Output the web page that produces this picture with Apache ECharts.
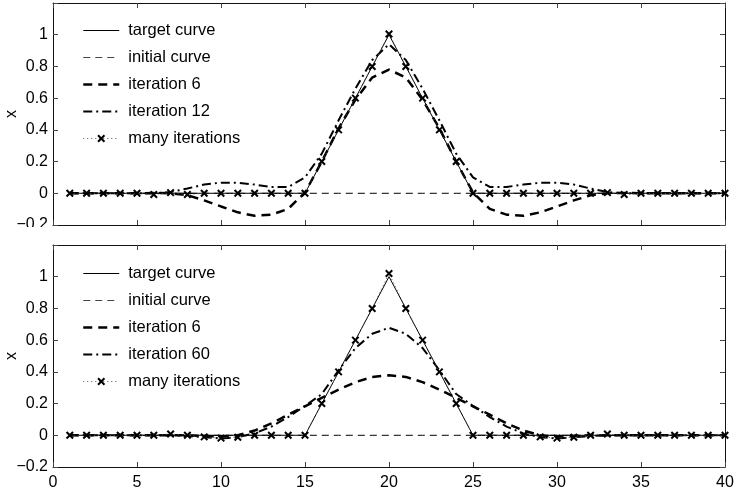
<!DOCTYPE html>
<html>
<head>
<meta charset="utf-8">
<title>Iterative reconstruction of x</title>
<script src="https://cdn.jsdelivr.net/npm/echarts@6/dist/echarts.min.js"></script>
<style>
  html, body { margin: 0; padding: 0; background: #fff; }
  #chart { width: 737px; height: 493px; }
</style>
</head>
<body>
<div id="chart"></div>
<script>
// sample positions
const xs = [1, 2, 3, 4, 5, 6, 7, 8, 9, 10, 11, 12, 13, 14, 15, 16, 17, 18, 19, 20,
            21, 22, 23, 24, 25, 26, 27, 28, 29, 30, 31, 32, 33, 34, 35, 36, 37, 38, 39, 40];

// target triangle and the flat starting curve
const targetCurve = [0, 0, 0, 0, 0, 0, 0, 0, 0, 0, 0, 0, 0, 0, 0,
                     0.2, 0.4, 0.6, 0.8, 1.0, 0.8, 0.6, 0.4, 0.2,
                     0, 0, 0, 0, 0, 0, 0, 0, 0, 0, 0, 0, 0, 0, 0, 0];
const initialCurve = [0, 0, 0, 0, 0, 0, 0, 0, 0, 0, 0, 0, 0, 0, 0, 0, 0, 0, 0, 0,
                      0, 0, 0, 0, 0, 0, 0, 0, 0, 0, 0, 0, 0, 0, 0, 0, 0, 0, 0, 0];

// upper panel
const topIter6 = [0, 0, 0, 0, 0, 0.002, 0, -0.012, -0.045, -0.083, -0.12, -0.142, -0.135, -0.098, 0.005,
                  0.2, 0.41, 0.59, 0.73, 0.78, 0.73, 0.59, 0.41, 0.2, 0.005,
                  -0.098, -0.135, -0.142, -0.12, -0.083, -0.045, -0.012, 0, 0.002, 0, 0, 0, 0, 0, 0];
const topIter12 = [0, 0, 0, 0, 0, 0, 0.008, 0.03, 0.055, 0.067, 0.066, 0.055, 0.04, 0.04, 0.1,
                   0.25, 0.46, 0.66, 0.84, 0.94, 0.84, 0.66, 0.46, 0.25, 0.1,
                   0.04, 0.04, 0.055, 0.066, 0.067, 0.055, 0.03, 0.008, 0, 0, 0, 0, 0, 0, 0];
const topMany = [0, 0, 0, 0, 0, -0.008, 0.004, -0.008, 0, 0, 0, 0, 0, 0, 0,
                 0.2, 0.4, 0.6, 0.8, 1.005, 0.8, 0.6, 0.4, 0.2,
                 0, 0, 0, 0, 0, 0, 0, 0, 0.004, -0.008, 0, 0, 0, 0, 0, 0];

// lower panel
const botIter6 = [0, 0, 0, 0, 0, 0, 0, 0, -0.004, -0.008, 0, 0.03, 0.075, 0.13, 0.183,
                  0.236, 0.288, 0.335, 0.368, 0.378, 0.368, 0.335, 0.288, 0.236, 0.183,
                  0.13, 0.075, 0.03, 0, -0.008, -0.004, 0, 0, 0, 0, 0, 0, 0, 0, 0];
const botIter60 = [0, 0, 0, 0, 0, 0, 0, -0.005, -0.012, -0.02, -0.012, 0.012, 0.055, 0.115, 0.185,
                   0.26, 0.41, 0.55, 0.64, 0.678, 0.64, 0.55, 0.41, 0.26, 0.185,
                   0.115, 0.055, 0.012, -0.012, -0.02, -0.012, -0.005, 0, 0, 0, 0, 0, 0, 0, 0];
const botMany = [0, 0, 0, 0, 0, 0, 0.008, 0, -0.01, -0.018, -0.012, 0, 0, 0, 0,
                 0.2, 0.4, 0.6, 0.8, 1.02, 0.8, 0.6, 0.4, 0.2,
                 0, 0, 0, 0, -0.01, -0.018, -0.012, 0, 0.008, 0, 0, 0, 0, 0, 0, 0];

// axis ticks
const xTicks = { min: 0, max: 40, interval: 5 };
const yTicks = { min: -0.2, max: 1.2, interval: 0.2 };

const FONT = '"Liberation Sans", Arial, Helvetica, sans-serif';
const CLEAR = 'rgba(0,0,0,0)';

// line looks shared by both panels and their legends
const STYLE = {
  initial: { color: '#444', width: 1, type: [7, 5] },
  target: { color: '#000', width: 1, type: 'solid' },
  iter6: { color: '#000', width: 2.5, type: [9, 6] },
  later: { color: '#000', width: 2, type: [9, 4, 2, 4] },
  many: { color: '#555', width: 1, type: [1, 3] }
};

function pairs(ys) { return xs.map((x, i) => [x, ys[i]]); }

function yLabel(v) {
  if (Math.abs(v - 1.2) < 1e-9) return '';
  const r = Math.round(v * 10) / 10;
  return r < 0 ? '\u2212' + String(-r) : String(r);
}

const axisLine = { show: true, onZero: false, lineStyle: { color: '#111', width: 1 } };
const tickIn = { show: true, inside: true, length: 5, lineStyle: { color: '#444', width: 1 } };

function xAxes(grid, withLabels) {
  return [
    {
      type: 'value', gridIndex: grid, position: 'bottom',
      min: xTicks.min, max: xTicks.max, interval: xTicks.interval,
      axisLine: axisLine, axisTick: tickIn, splitLine: { show: false },
      axisLabel: { show: withLabels, margin: 8, color: '#000', fontFamily: FONT, fontSize: 16 }
    },
    {
      type: 'value', gridIndex: grid, position: 'top',
      min: xTicks.min, max: xTicks.max, interval: xTicks.interval,
      axisLine: axisLine, axisTick: tickIn, splitLine: { show: false },
      axisLabel: { show: false }
    }
  ];
}

function yAxes(grid) {
  return [
    {
      type: 'value', gridIndex: grid, position: 'left',
      min: yTicks.min, max: yTicks.max, interval: yTicks.interval,
      name: 'x', nameLocation: 'middle', nameRotate: 90, nameGap: 33,
      nameMoveOverlap: false,
      nameTextStyle: { color: '#000', fontFamily: FONT, fontSize: 16 },
      axisLine: axisLine, axisTick: tickIn, splitLine: { show: false },
      axisLabel: { color: '#000', fontFamily: FONT, fontSize: 16, margin: 5, formatter: yLabel }
    },
    {
      type: 'value', gridIndex: grid, position: 'right',
      min: yTicks.min, max: yTicks.max, interval: yTicks.interval,
      axisLine: axisLine, axisTick: tickIn, splitLine: { show: false },
      axisLabel: { show: false }
    }
  ];
}

const crossPath = 'path://M0,0L10,10M10,0L0,10';

// plain curves carry a see-through item colour so their legend swatch is just the line
function makeSeries(xi, yi, sets) {
  return [
    {
      name: 'initial curve', type: 'line', xAxisIndex: xi, yAxisIndex: yi,
      data: pairs(initialCurve), symbol: 'none', silent: true, z: 2,
      itemStyle: { color: CLEAR },
      lineStyle: Object.assign({}, STYLE.initial, { color: '#000' })
    },
    {
      name: 'target curve', type: 'line', xAxisIndex: xi, yAxisIndex: yi,
      data: pairs(targetCurve), symbol: 'none', silent: true, z: 3,
      itemStyle: { color: CLEAR },
      lineStyle: STYLE.target
    },
    {
      name: 'iteration 6', type: 'line', xAxisIndex: xi, yAxisIndex: yi,
      data: pairs(sets.iter6), symbol: 'none', silent: true, z: 4,
      itemStyle: { color: CLEAR },
      lineStyle: STYLE.iter6
    },
    {
      name: sets.laterName, type: 'line', xAxisIndex: xi, yAxisIndex: yi,
      data: pairs(sets.later), symbol: 'none', silent: true, z: 5,
      itemStyle: { color: CLEAR },
      lineStyle: STYLE.later
    },
    {
      name: 'many iterations', type: 'line', xAxisIndex: xi, yAxisIndex: yi,
      data: pairs(sets.many), symbol: crossPath, symbolSize: 6.5, showAllSymbol: true,
      silent: true, z: 6,
      itemStyle: { color: '#000', borderColor: '#000', borderWidth: 2 },
      lineStyle: STYLE.many
    }
  ];
}

function legendAt(top, lastName) {
  return {
    orient: 'vertical', left: 82, top: top, padding: 0,
    itemWidth: 36, itemHeight: 8, itemGap: 10,
    selectedMode: false,
    data: [
      { name: 'target curve', lineStyle: STYLE.target },
      { name: 'initial curve', lineStyle: STYLE.initial },
      { name: 'iteration 6', lineStyle: STYLE.iter6 },
      { name: lastName, lineStyle: STYLE.later },
      { name: 'many iterations', lineStyle: STYLE.many }
    ],
    textStyle: { color: '#000', fontFamily: FONT, fontSize: 16.5, padding: [0, 0, 0, 4] }
  };
}

const chart = echarts.init(document.getElementById('chart'), null, { renderer: 'canvas' });

chart.setOption({
  animation: false,
  backgroundColor: '#fff',
  grid: [
    { left: 53, right: 12, top: 3, bottom: 268, outerBoundsMode: 'none' },
    { left: 53, right: 12, top: 245, bottom: 26, outerBoundsMode: 'none' }
  ],
  xAxis: xAxes(0, false).concat(xAxes(1, true)),
  yAxis: yAxes(0).concat(yAxes(1)),
  legend: [legendAt(22, 'iteration 12'), legendAt(265, 'iteration 60')],
  series: makeSeries(0, 0, { iter6: topIter6, later: topIter12, laterName: 'iteration 12', many: topMany })
    .concat(makeSeries(2, 2, { iter6: botIter6, later: botIter60, laterName: 'iteration 60', many: botMany })),
  graphic: [
    {
      // strip between the two panels, drawn over the lower half of the upper panel's last tick label
      type: 'rect', left: 0, top: 227, z: 100,
      shape: { width: 52, height: 17 },
      style: { fill: '#fff' }
    }
  ]
});
</script>
</body>
</html>
